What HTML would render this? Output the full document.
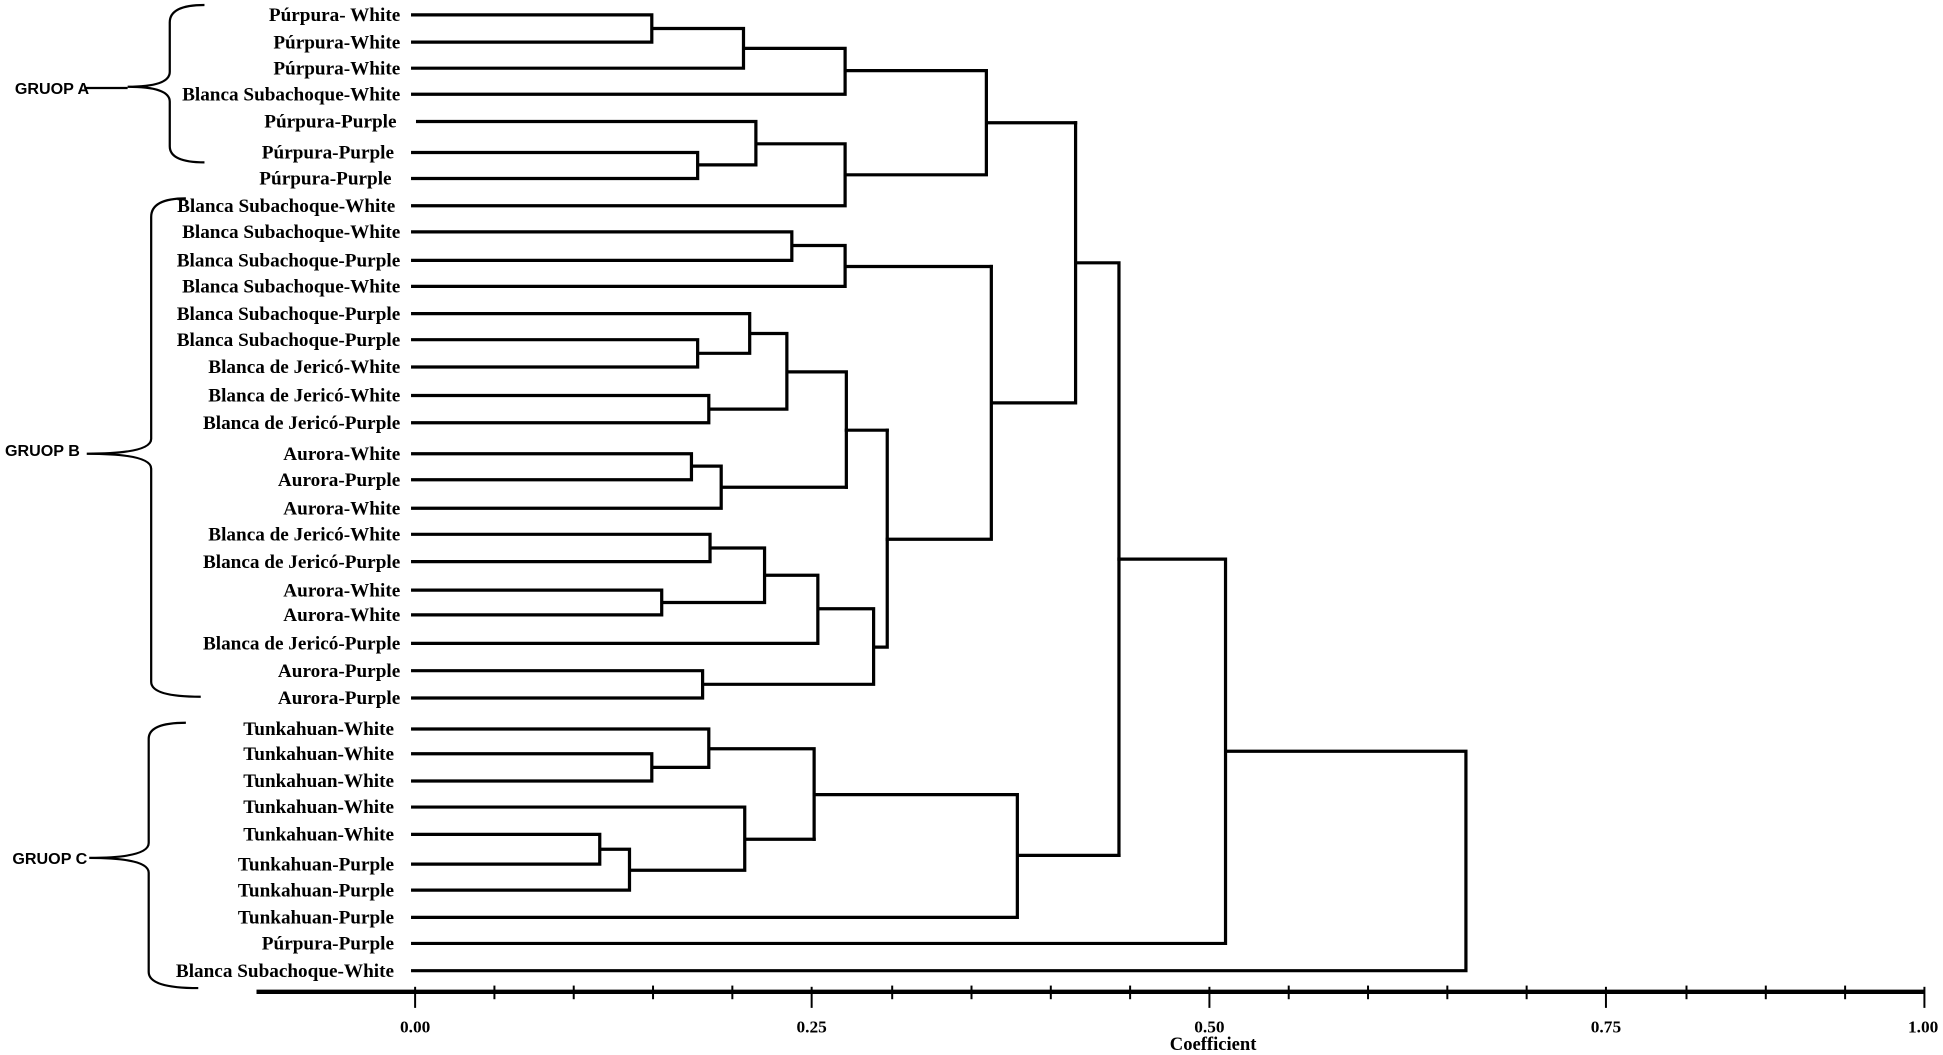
<!DOCTYPE html>
<html><head><meta charset="utf-8"><style>
html,body{margin:0;padding:0;background:#fff;}
svg{display:block;}
.l{font-family:"Liberation Serif",serif;font-weight:bold;font-size:15.5px;fill:#000;text-anchor:end;}
.g{font-family:"Liberation Sans",sans-serif;font-weight:bold;font-size:13px;fill:#000;}
.t{font-family:"Liberation Serif",serif;font-weight:bold;font-size:14px;fill:#000;text-anchor:middle;}
</style></head><body>
<svg width="1943" height="1055" viewBox="0 0 1568 851" preserveAspectRatio="none" xmlns="http://www.w3.org/2000/svg">
<g class="l">
<text x="323" y="17">Púrpura-  White</text>
<text x="323" y="39">Púrpura-White</text>
<text x="323" y="60">Púrpura-White</text>
<text x="323" y="81">Blanca Subachoque-White</text>
<text x="320" y="103">Púrpura-Purple</text>
<text x="318" y="128">Púrpura-Purple</text>
<text x="316" y="149">Púrpura-Purple</text>
<text x="319" y="171">Blanca Subachoque-White</text>
<text x="323" y="192">Blanca Subachoque-White</text>
<text x="323" y="215">Blanca Subachoque-Purple</text>
<text x="323" y="236">Blanca Subachoque-White</text>
<text x="323" y="258">Blanca Subachoque-Purple</text>
<text x="323" y="279">Blanca Subachoque-Purple</text>
<text x="323" y="301">Blanca de Jericó-White</text>
<text x="323" y="324">Blanca de Jericó-White</text>
<text x="323" y="346">Blanca de Jericó-Purple</text>
<text x="323" y="371">Aurora-White</text>
<text x="323" y="392">Aurora-Purple</text>
<text x="323" y="415">Aurora-White</text>
<text x="323" y="436">Blanca de Jericó-White</text>
<text x="323" y="458">Blanca de Jericó-Purple</text>
<text x="323" y="481">Aurora-White</text>
<text x="323" y="501">Aurora-White</text>
<text x="323" y="524">Blanca de Jericó-Purple</text>
<text x="323" y="546">Aurora-Purple</text>
<text x="323" y="568">Aurora-Purple</text>
<text x="318" y="593">Tunkahuan-White</text>
<text x="318" y="613">Tunkahuan-White</text>
<text x="318" y="635">Tunkahuan-White</text>
<text x="318" y="656">Tunkahuan-White</text>
<text x="318" y="678">Tunkahuan-White</text>
<text x="318" y="702">Tunkahuan-Purple</text>
<text x="318" y="723">Tunkahuan-Purple</text>
<text x="318" y="745">Tunkahuan-Purple</text>
<text x="318" y="766">Púrpura-Purple</text>
<text x="318" y="788">Blanca Subachoque-White</text>
</g>
<g class="g">
<text x="12" y="76">GRUOP A</text>
<text x="4" y="368">GRUOP B</text>
<text x="10" y="697">GRUOP C</text>
</g>
<g fill="none" stroke="#000" stroke-width="1.8">
<path d="M165,4 Q137,4 137,18 L137,58 Q137,70 103,70 Q137,70 137,82 L137,118 Q137,131 165,131"/>
<path d="M68,71 L103,71"/>
<path d="M150,160 Q122,160 122,175 L122,354 Q122,366 70,366 Q122,366 122,378 L122,550 Q122,562 162,562"/>
<path d="M150,583 Q120,583 120,596 L120,680 Q120,692 72,692 Q120,692 120,704 L120,784 Q120,797 160,797"/>
</g>
<g fill="none" stroke="#000" stroke-width="2.6" stroke-linejoin="miter" stroke-linecap="square">
<path d="M333,12 H526 V34 H333 M526,23 H600 V55 H333 M600,39 H682 V76 H333"/>
<path d="M337,98 H610 V133 M333,123 H563 V144 H333 M563,133 H610 M610,116 H682 V166 H333"/>
<path d="M682,57 H796 V141 H682 M796,99 H868"/>
<path d="M333,187 H639 V210 H333 M639,198 H682 V231 H333 M682,215 H800"/>
<path d="M333,253 H605 V285 M333,274 H563 V296 H333 M563,285 H605 M605,269 H635 V330 M333,319 H572 V341 H333 M572,330 H635 M635,300 H683 V393"/>
<path d="M333,366 H558 V387 H333 M558,376 H582 V410 H333 M582,393 H683 M683,347 H716"/>
<path d="M333,431 H573 V453 H333 M573,442 H617 V486 M333,476 H534 V496 H333 M534,486 H617 M617,464 H660 V519 H333 M660,491 H705 V552 M333,541 H567 V563 H333 M567,552 H705 M705,522 H716 V347"/>
<path d="M716,435 H800 V215 M800,325 H868 V99 M868,212 H903 V690"/>
<path d="M333,588 H572 V619 M333,608 H526 V630 H333 M526,619 H572 M572,604 H657 V677"/>
<path d="M333,673 H484 V697 H333 M484,685 H508 V718 H333 M508,702 H601 V651 H333 M601,677 H657 M657,641 H821 V740 H333 M821,690 H903"/>
<path d="M903,451 H989 V761 H333 M989,606 H1183 V783 H333"/>
</g>
<g stroke="#000">
<line x1="207" y1="800" x2="1553" y2="800" stroke-width="3.5"/>
<g stroke-width="1.6">
<line x1="335" y1="796" x2="335" y2="813"/>
<line x1="399" y1="795" x2="399" y2="806"/>
<line x1="463" y1="795" x2="463" y2="806"/>
<line x1="527" y1="795" x2="527" y2="806"/>
<line x1="591" y1="795" x2="591" y2="806"/>
<line x1="655" y1="796" x2="655" y2="813"/>
<line x1="720" y1="795" x2="720" y2="806"/>
<line x1="784" y1="795" x2="784" y2="806"/>
<line x1="848" y1="795" x2="848" y2="806"/>
<line x1="912" y1="795" x2="912" y2="806"/>
<line x1="976" y1="796" x2="976" y2="813"/>
<line x1="1040" y1="795" x2="1040" y2="806"/>
<line x1="1104" y1="795" x2="1104" y2="806"/>
<line x1="1168" y1="795" x2="1168" y2="806"/>
<line x1="1232" y1="795" x2="1232" y2="806"/>
<line x1="1296" y1="796" x2="1296" y2="813"/>
<line x1="1361" y1="795" x2="1361" y2="806"/>
<line x1="1425" y1="795" x2="1425" y2="806"/>
<line x1="1489" y1="795" x2="1489" y2="806"/>
<line x1="1553" y1="796" x2="1553" y2="813"/>
</g>
</g>
<g class="t">
<text x="335" y="833">0.00</text>
<text x="655" y="833">0.25</text>
<text x="976" y="833">0.50</text>
<text x="1296" y="833">0.75</text>
<text x="1552" y="833">1.00</text>
<text x="979" y="847" style="font-size:15px">Coefficient</text>
</g>
</svg>
</body></html>
